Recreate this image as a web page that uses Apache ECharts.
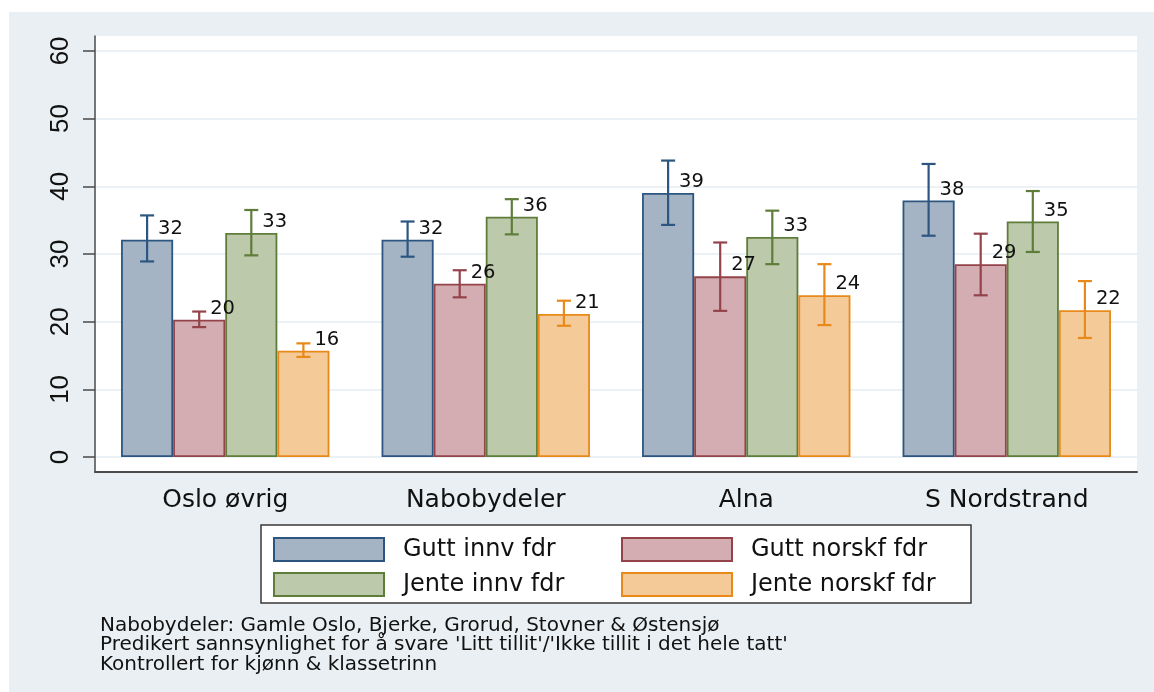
<!DOCTYPE html>
<html>
<head>
<meta charset="utf-8">
<script src="https://cdn.jsdelivr.net/npm/echarts@6/dist/echarts.min.js"></script>
<style>
  html, body { margin: 0; padding: 0; background: #fff; }
  #bg { position: absolute; left: 9px; top: 12px; width: 1145px; height: 680px; background: #e9eff2; }
  #chart { position: absolute; left: 0; top: 0; width: 1154px; height: 692px; }
</style>
</head>
<body>
<div id="bg"></div>
<div id="chart"></div>
<script>
const categories = ['Oslo øvrig', 'Nabobydeler', 'Alna', 'S Nordstrand'];
const seriesNames = ['Gutt innv fdr', 'Gutt norskf fdr', 'Jente innv fdr', 'Jente norskf fdr'];

// predicted value, lower and upper CI per category
const guttInnv = [32.1, 32.1, 39.0, 37.9];
const guttInnvLo = [28.9, 29.6, 34.3, 32.7];
const guttInnvHi = [35.7, 34.8, 43.8, 43.3];

const guttNorsk = [20.3, 25.6, 26.7, 28.5];
const guttNorskLo = [19.2, 23.6, 21.6, 23.9];
const guttNorskHi = [21.5, 27.6, 31.7, 33.0];

const jenteInnv = [33.1, 35.5, 32.5, 34.8];
const jenteInnvLo = [29.8, 32.9, 28.5, 30.3];
const jenteInnvHi = [36.5, 38.1, 36.4, 39.3];

const jenteNorsk = [15.7, 21.15, 23.9, 21.7];
const jenteNorskLo = [14.8, 19.4, 19.5, 17.6];
const jenteNorskHi = [16.8, 23.1, 28.5, 26.0];

const yTicks = [0, 10, 20, 30, 40, 50, 60];
const notes = [
  'Nabobydeler: Gamle Oslo, Bjerke, Grorud, Stovner & Østensjø',
  "Predikert sannsynlighet for å svare 'Litt tillit'/'Ikke tillit i det hele tatt'",
  'Kontrollert for kjønn & klassetrinn'
];

const fills = ['#a4b4c5', '#d3adb1', '#bcc9ab', '#f4ca98'];
const lines = ['#2c5680', '#94434b', '#5f7d3a', '#e8891a'];
const values = [guttInnv, guttNorsk, jenteInnv, jenteNorsk];
const lows = [guttInnvLo, guttNorskLo, jenteInnvLo, jenteNorskLo];
const highs = [guttInnvHi, guttNorskHi, jenteInnvHi, jenteNorskHi];

const chart = echarts.init(document.getElementById('chart'));

const series = [];
values.forEach(function (vals, k) {
  series.push({
    name: seriesNames[k],
    type: 'bar',
    data: vals,
    barGap: '0%',
    barCategoryGap: '20%',
    itemStyle: { color: fills[k], borderColor: lines[k], borderWidth: 1.8 },
    emphasis: { disabled: true }
  });
});
values.forEach(function (vals, k) {
  series.push({
    type: 'custom',
    name: 'ci' + k,
    z: 5,
    data: vals.map(function (v, i) { return [i, v, lows[k][i], highs[k][i]]; }),
    encode: { x: 0, y: 1 },
    renderItem: function (params, api) {
      const idx = api.value(0);
      const val = api.value(1);
      const top = api.coord([idx, val]);
      const lo = api.coord([idx, api.value(2)]);
      const hi = api.coord([idx, api.value(3)]);
      const band = api.size([1, 0])[0];
      const bw = band * 0.8 / 4;
      const cx = top[0] + (k - 1.5) * bw;
      const st = { stroke: lines[k], lineWidth: 2.2 };
      return {
        type: 'group',
        children: [
          { type: 'line', shape: { x1: cx, y1: lo[1], x2: cx, y2: hi[1] }, style: st },
          { type: 'line', shape: { x1: cx - 7, y1: lo[1], x2: cx + 7, y2: lo[1] }, style: st },
          { type: 'line', shape: { x1: cx - 7, y1: hi[1], x2: cx + 7, y2: hi[1] }, style: st },
          { type: 'text', style: {
              text: String(Math.round(val)), x: cx + 11, y: top[1] - 11,
              align: 'left', verticalAlign: 'middle',
              fontSize: 19.5, fontFamily: 'DejaVu Sans', fill: '#111'
          } }
        ]
      };
    }
  });
});

const legendText = { fontSize: 24, fontFamily: 'DejaVu Sans', color: '#111', padding: [0, 0, 0, 14] };

chart.setOption({
  backgroundColor: 'transparent',
  animation: false,
  title: {
    text: notes.join('\n'),
    left: 100,
    top: 616,
    padding: 0,
    textStyle: { fontSize: 20, lineHeight: 19.5, fontWeight: 'normal', fontFamily: 'DejaVu Sans', color: '#111' }
  },
  graphic: [{
    type: 'rect',
    z: 1,
    shape: { x: 261, y: 525, width: 710, height: 78 },
    style: { fill: '#fff', stroke: '#3a3a3a', lineWidth: 1.5 }
  }],
  legend: [{
    data: [seriesNames[0], seriesNames[2]],
    orient: 'vertical', left: 273, top: 537, padding: 0,
    icon: 'rect', itemWidth: 110, itemHeight: 23, itemGap: 10,
    selectedMode: false, textStyle: legendText
  }, {
    data: [seriesNames[1], seriesNames[3]],
    orient: 'vertical', left: 621, top: 537, padding: 0,
    icon: 'rect', itemWidth: 110, itemHeight: 23, itemGap: 10,
    selectedMode: false, textStyle: legendText
  }],
  grid: { left: 95, right: 17, top: 36, bottom: 220, show: true, backgroundColor: '#fff', borderWidth: 0 },
  xAxis: {
    type: 'category',
    data: categories,
    axisLine: { onZero: false, lineStyle: { color: '#4a4a4a', width: 2 } },
    axisTick: { show: false },
    axisLabel: { fontSize: 25, fontFamily: 'DejaVu Sans', color: '#111', margin: 16 }
  },
  yAxis: {
    type: 'value',
    min: -2.2,
    max: 62.2,
    axisLine: { show: true, lineStyle: { color: '#4a4a4a', width: 1.5 } },
    axisTick: { show: true, length: 12, customValues: yTicks, lineStyle: { color: '#4a4a4a', width: 1.5 } },
    axisLabel: { customValues: yTicks, rotate: 90, fontSize: 26, fontFamily: 'Liberation Sans', color: '#111', margin: 21 },
    splitLine: { show: true, lineStyle: { color: '#e4ecf0', width: 1.5 } }
  },
  series: series
});
</script>
</body>
</html>
